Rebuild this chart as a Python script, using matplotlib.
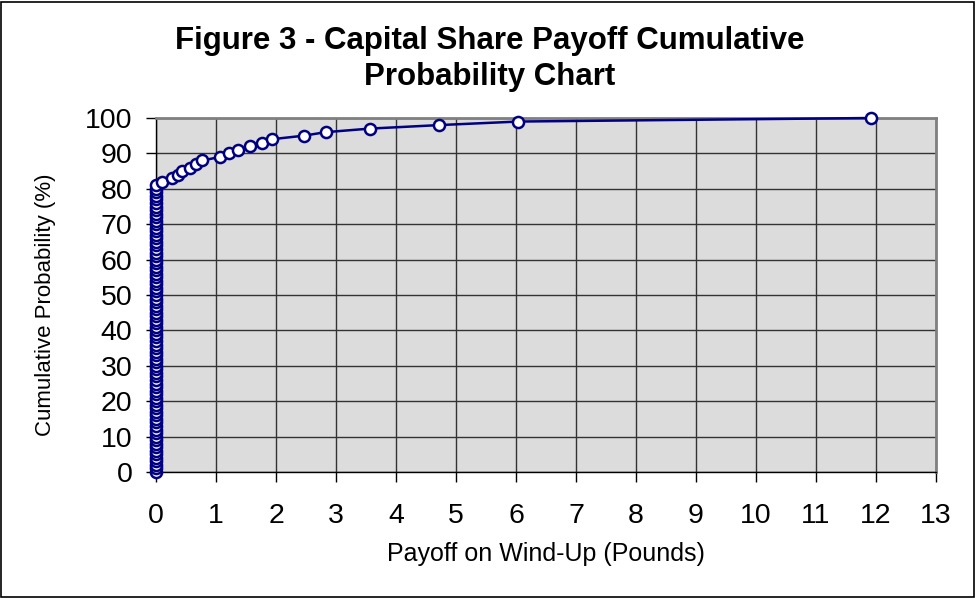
import matplotlib
matplotlib.use("Agg")
import matplotlib.pyplot as plt
from matplotlib.patches import Rectangle

# Data
payoff = [0.0] * 82 + [0.10, 0.27, 0.37, 0.44, 0.57, 0.66, 0.77, 1.07, 1.21, 1.37,
                       1.57, 1.77, 1.93, 2.46, 2.83, 3.56, 4.72, 6.04, 11.92]
cum_prob = [0, 1, 2, 3, 4, 5, 6, 7, 8, 9, 10, 11, 12, 13, 14, 15, 16, 17, 18, 19,
            20, 21, 22, 23, 24, 25, 26, 27, 28, 29, 30, 31, 32, 33, 34, 35, 36, 37, 38, 39,
            40, 41, 42, 43, 44, 45, 46, 47, 48, 49, 50, 51, 52, 53, 54, 55, 56, 57, 58, 59,
            60, 61, 62, 63, 64, 65, 66, 67, 68, 69, 70, 71, 72, 73, 74, 75, 76, 77, 78, 79,
            80, 81, 82, 83, 84, 85, 86, 87, 88, 89, 90, 91, 92, 93, 94, 95, 96, 97, 98, 99, 100]
x_ticks = [0, 1, 2, 3, 4, 5, 6, 7, 8, 9, 10, 11, 12, 13]
y_ticks = [0, 10, 20, 30, 40, 50, 60, 70, 80, 90, 100]

plt.rcParams['font.family'] = ['Liberation Sans', 'DejaVu Sans']

W, H = 977, 598
fig = plt.figure(figsize=(W / 100, H / 100), dpi=100)
ax = fig.add_axes([156 / W, 1 - 472 / H, (936 - 156) / W, (472 - 118) / H])

ax.set_facecolor('#DCDCDC')
ax.plot(payoff, cum_prob, color='#000080', linewidth=1.8, marker='o',
        markersize=8, markerfacecolor='white', markeredgecolor='#000080',
        markeredgewidth=1.8, zorder=5, clip_on=False)

ax.set_xlim(0, 13)
ax.set_ylim(0, 100)
ax.set_xticks(x_ticks)
ax.set_yticks(y_ticks)
ax.set_xticklabels([str(v) for v in x_ticks], fontsize=20.5)
ax.set_yticklabels([str(v) for v in y_ticks], fontsize=20.5)
ax.tick_params(axis='both', direction='out', length=7, width=1, color='black')
ax.tick_params(axis='x', pad=15)
ax.tick_params(axis='y', pad=10)
ax.grid(True, color='#333333', linewidth=1.0)
ax.set_axisbelow(True)

for s in ['left', 'bottom']:
    ax.spines[s].set_color('black')
    ax.spines[s].set_linewidth(1.0)
for s in ['top', 'right']:
    ax.spines[s].set_color('#808080')
    ax.spines[s].set_linewidth(2.0)

fig.text(545.5 / W, 1 - 554 / H, 'Payoff on Wind-Up (Pounds)', ha='center', va='center',
         fontsize=18)
fig.text(46 / W, 1 - 305 / H, 'Cumulative Probability (%)', ha='center', va='center',
         rotation=90, fontsize=16)

fig.text(490 / W, 1 - 59 / H, 'Figure 3 - Capital Share Payoff Cumulative\nProbability Chart',
         ha='center', va='center', fontsize=22.5, fontweight='bold', linespacing=1.3)

fig.patches.append(Rectangle((1 / W, 1 / H), (W - 4) / W, (H - 3) / H, transform=fig.transFigure,
                             fill=False, edgecolor='black', linewidth=1.2))

fig.savefig('out.png', dpi=100)
